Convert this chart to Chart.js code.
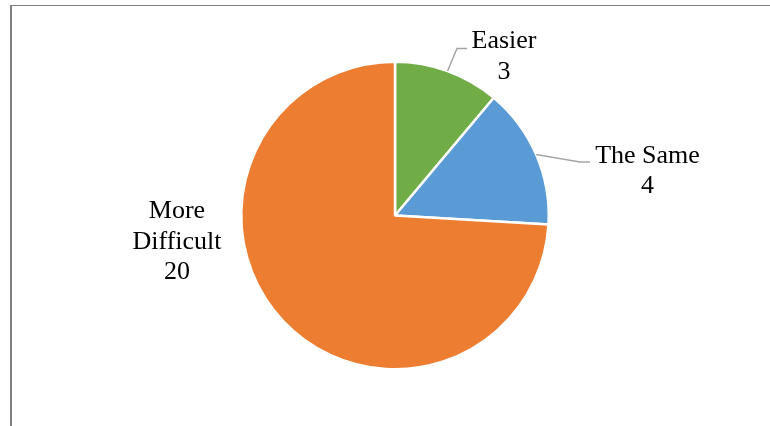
<!DOCTYPE html>
<html>
<head>
<meta charset="utf-8">
<script src="https://cdn.jsdelivr.net/npm/chart.js@4"></script>
<style>
  html, body { margin: 0; padding: 0; background: #fff; }
  #wrap { position: relative; width: 770px; height: 426px; }
</style>
</head>
<body>
<div id="wrap"><canvas id="pie" width="770" height="426"></canvas></div>
<script>
// ——— data ———
var categories = ["Easier", "The Same", "More Difficult"];
var counts = [3, 4, 20];
var labelLines = [["Easier"], ["The Same"], ["More", "Difficult"]];

// ——— style ———
var sliceColors = ["#70AD47", "#5B9BD5", "#ED7D31"];
var labelFont = "26px 'Liberation Serif', 'Times New Roman', serif";
var lineHeight = 30.5;
// label placement relative to pie centre (px): text centre x / first baseline, leader elbow + end
var labelPlace = [
  { tx: 109, ty: -167.5, leader: [[62, -167], [72, -167]] },
  { tx: 252.5, ty: -53, leader: [[185, -53.5], [195, -53.5]] },
  { tx: -218, ty: 2.5, leader: null }
];

var framePlugin = {
  id: "frame",
  beforeDraw: function (chart) {
    var ctx = chart.ctx;
    ctx.save();
    ctx.fillStyle = "#808080";
    ctx.fillRect(10, 5, 760, 1);
    ctx.fillRect(10, 5, 2, 421);
    ctx.restore();
  }
};

var labelPlugin = {
  id: "sliceLabels",
  afterDatasetsDraw: function (chart) {
    var ctx = chart.ctx;
    var arcs = chart.getDatasetMeta(0).data;
    ctx.save();
    arcs.forEach(function (arc, i) {
      var p = arc.getProps(["x", "y", "startAngle", "endAngle", "outerRadius"], true);
      var mid = (p.startAngle + p.endAngle) / 2;
      var place = labelPlace[i];
      if (place.leader) {
        ctx.strokeStyle = "#A5A5A5";
        ctx.lineWidth = 1.5;
        ctx.beginPath();
        ctx.moveTo(p.x + Math.cos(mid) * p.outerRadius, p.y + Math.sin(mid) * p.outerRadius);
        place.leader.forEach(function (pt) { ctx.lineTo(p.x + pt[0], p.y + pt[1]); });
        ctx.stroke();
      }
      var lines = labelLines[i].concat([String(counts[i])]);
      ctx.fillStyle = "#000";
      ctx.font = labelFont;
      ctx.textAlign = "center";
      ctx.textBaseline = "alphabetic";
      lines.forEach(function (t, k) {
        ctx.fillText(t, p.x + place.tx, p.y + place.ty + k * lineHeight);
      });
    });
    ctx.restore();
  }
};

new Chart(document.getElementById("pie"), {
  type: "pie",
  data: {
    labels: categories,
    datasets: [{
      data: counts,
      backgroundColor: sliceColors,
      borderColor: "#fff",
      borderWidth: 2.5
    }]
  },
  options: {
    responsive: false,
    animation: false,
    layout: { padding: { top: 60, bottom: 55, left: 240, right: 220 } },
    plugins: { legend: { display: false }, tooltip: { enabled: false } }
  },
  plugins: [framePlugin, labelPlugin]
});
</script>
</body>
</html>
